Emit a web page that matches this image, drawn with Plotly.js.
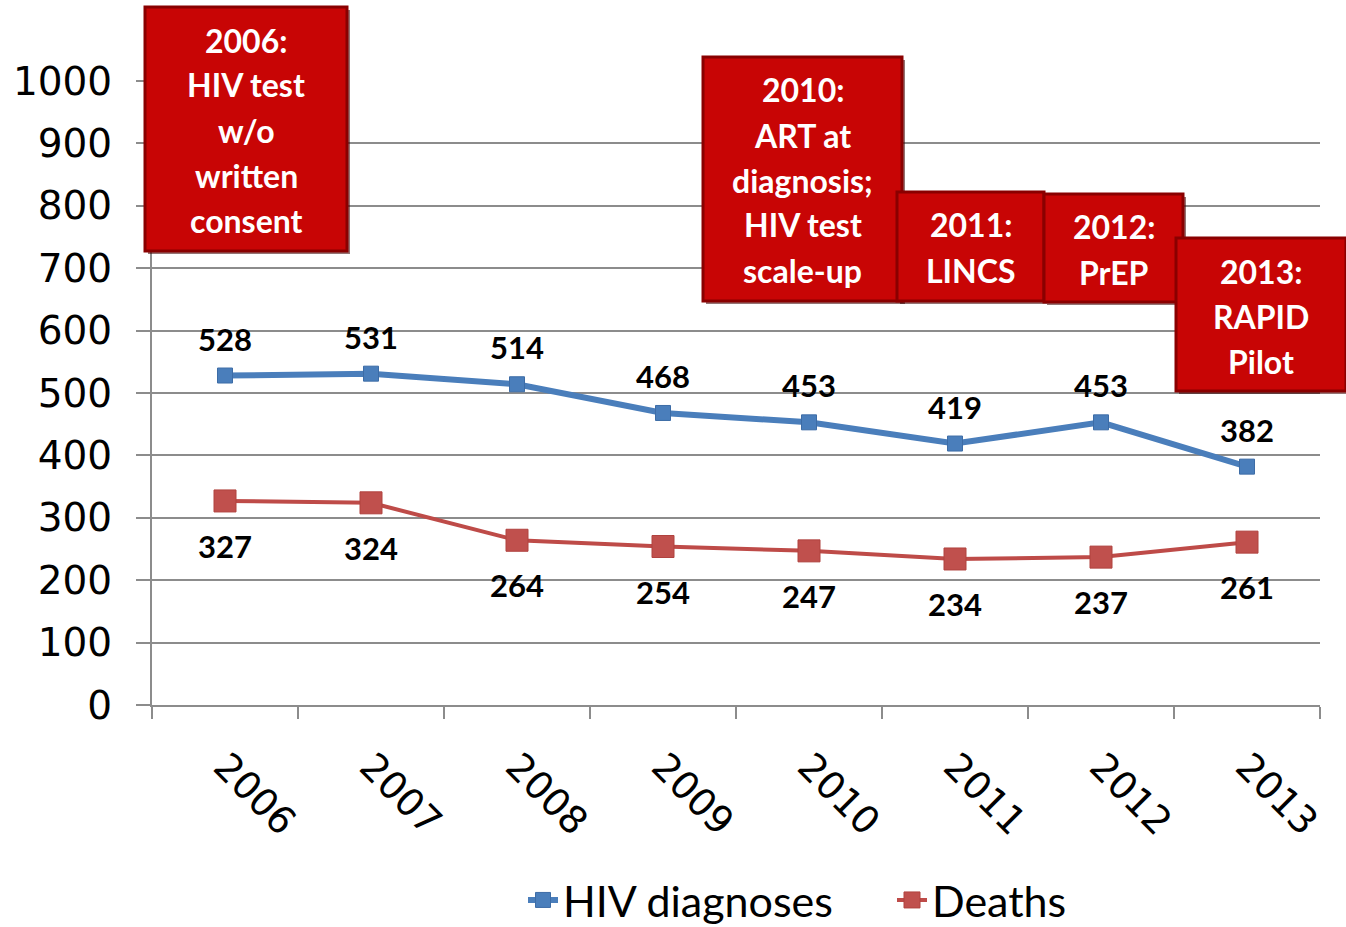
<!DOCTYPE html>
<html>
<head>
<meta charset="utf-8">
<script src="https://cdn.plot.ly/plotly-3.0.1.min.js"></script>
<style>
  html, body { margin: 0; padding: 0; background: #fff; }
  #chart { width: 1346px; height: 927px; }
</style>
</head>
<body>
<div id="chart"></div>
<script>
  var years = ['2006', '2007', '2008', '2009', '2010', '2011', '2012', '2013'];
  var hivDiagnoses = [528, 531, 514, 468, 453, 419, 453, 382];
  var deaths = [327, 324, 264, 254, 247, 234, 237, 261];
  var yTicks = [0, 100, 200, 300, 400, 500, 600, 700, 800, 900, 1000];

  var milestoneText = [
    ['2006:', 'HIV test', 'w/o', 'written', 'consent'],
    ['2010:', 'ART at', 'diagnosis;', 'HIV test', 'scale-up'],
    ['2011:', 'LINCS'],
    ['2012:', 'PrEP'],
    ['2013:', 'RAPID', 'Pilot']
  ];

  // box placement in page pixels [left, top, right, bottom]
  var boxPx = [
    [145, 7, 347, 251],
    [703, 57, 902, 301],
    [897, 192, 1044, 301],
    [1044, 194, 1183, 302],
    [1176, 238, 1346, 391]
  ];

  var plotL = 152, plotR = 1320, plotT = 81, plotB = 705;
  function px(x) { return (x - plotL) / (plotR - plotL); }
  function py(y) { return (plotB - y) / (plotB - plotT); }

  var boldFont = 'Lato, "Open Sans", sans-serif';

  var trace1 = {
    x: years,
    y: hivDiagnoses,
    name: 'HIV diagnoses',
    type: 'scatter',
    mode: 'lines+markers',
    line: { color: '#4a7ebb', width: 6 },
    marker: { symbol: 'square', size: 15, color: '#4a7ebb', line: { color: '#3d6ca6', width: 1 } },
    cliponaxis: false
  };

  var trace2 = {
    x: years,
    y: deaths,
    name: 'Deaths',
    type: 'scatter',
    mode: 'lines+markers',
    line: { color: '#be4b48', width: 4 },
    marker: { symbol: 'square', size: 22, color: '#c0504d', line: { color: '#b0423f', width: 1 } },
    cliponaxis: false
  };

  var shapes = [];
  var annotations = [];

  // value labels, placed at the data points (x is the category index)
  years.forEach(function (yr, i) {
    annotations.push({
      xref: 'x', yref: 'y', x: i, y: hivDiagnoses[i], yshift: 37,
      xanchor: 'center', yanchor: 'middle', showarrow: false,
      text: String(hivDiagnoses[i]),
      font: { family: boldFont, size: 31, color: '#000', weight: 'bold' }
    });
    annotations.push({
      xref: 'x', yref: 'y', x: i, y: deaths[i], yshift: -45,
      xanchor: 'center', yanchor: 'middle', showarrow: false,
      text: String(deaths[i]),
      font: { family: boldFont, size: 31, color: '#000', weight: 'bold' }
    });
  });

  boxPx.forEach(function (b, i) {
    // shadow
    shapes.push({
      type: 'rect', xref: 'paper', yref: 'paper', layer: 'above',
      x0: px(b[0] + 3), x1: px(b[2] + 3), y0: py(b[1] + 3), y1: py(b[3] + 3),
      fillcolor: 'rgba(60,0,0,0.55)', line: { width: 0 }
    });
    shapes.push({
      type: 'rect', xref: 'paper', yref: 'paper', layer: 'above',
      x0: px(b[0]), x1: px(b[2]), y0: py(b[1]), y1: py(b[3]),
      fillcolor: '#c80505', line: { color: '#8a0000', width: 3 }
    });
    var cx = (b[0] + b[2]) / 2;
    milestoneText[i].forEach(function (line, j) {
      annotations.push({
        xref: 'paper', yref: 'paper',
        x: px(cx), y: py(b[1] + 33 + j * 45),
        xanchor: 'center', yanchor: 'middle',
        text: line, showarrow: false,
        font: { family: boldFont, size: 32, color: '#ffffff', weight: 'bold' }
      });
    });
  });

  var layout = {
    width: 1346,
    height: 927,
    paper_bgcolor: '#ffffff',
    plot_bgcolor: '#ffffff',
    showlegend: true,
    margin: { l: plotL, r: 1346 - plotR, t: plotT, b: 927 - plotB, pad: 0 },
    xaxis: {
      type: 'category',
      automargin: false,
      range: [-0.5, years.length - 0.5],
      tickangle: 45,
      tickson: 'boundaries',
      ticks: 'outside',
      ticklen: 12,
      tickwidth: 2,
      tickcolor: '#8c8c8c',
      ticklabelstandoff: 22,
      showline: true,
      linecolor: '#8c8c8c',
      linewidth: 2,
      showgrid: false,
      zeroline: false,
      tickfont: { family: '"DejaVu Sans", sans-serif', size: 38, color: '#000' }
    },
    yaxis: {
      automargin: false,
      range: [0, 1000],
      tickvals: yTicks,
      ticks: 'outside',
      ticklen: 14,
      tickwidth: 2,
      tickcolor: '#8c8c8c',
      showline: true,
      linecolor: '#8c8c8c',
      linewidth: 2,
      showgrid: true,
      gridcolor: '#8c8c8c',
      gridwidth: 2,
      zeroline: false,
      ticklabelstandoff: 16,
      tickfont: { family: '"DejaVu Sans", sans-serif', size: 39, color: '#000' }
    },
    legend: {
      orientation: 'h',
      x: px(523),
      xanchor: 'left',
      yref: 'container',
      y: 1 - 900 / 927,
      yanchor: 'middle',
      entrywidth: 324,
      font: { family: boldFont, size: 43, color: '#000' }
    },
    shapes: shapes,
    annotations: annotations
  };

  Plotly.newPlot(document.getElementById('chart'), [trace1, trace2], layout, { displayModeBar: false });
</script>
</body>
</html>
